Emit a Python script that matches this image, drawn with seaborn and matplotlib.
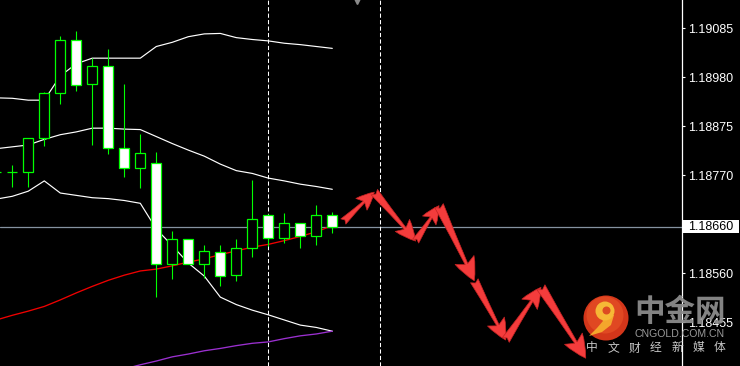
import numpy as np
import pandas as pd
import matplotlib
matplotlib.use("Agg")
import matplotlib.pyplot as plt
import matplotlib.transforms as mtransforms
from matplotlib.patches import FancyArrowPatch, Circle, Rectangle, Polygon
import seaborn as sns

# ---------------- data ----------------
bars = list(range(-1, 21))
opens = [1.18777, 1.18778, 1.18776, 1.18849, 1.18946, 1.19059, 1.18965, 1.19004, 1.18828, 1.18785,
         1.18797, 1.18579, 1.18633, 1.18581, 1.18605, 1.18556, 1.18614, 1.18686, 1.18635, 1.18667,
         1.18639, 1.18684]
highs = [1.18779, 1.18792, 1.18849, 1.18949, 1.19069, 1.19079, 1.19021, 1.19040, 1.18965, 1.18859,
         1.18819, 1.18651, 1.18634, 1.18620, 1.18620, 1.18633, 1.18759, 1.18687, 1.18689, 1.18668,
         1.18706, 1.18691]
lows = [1.18774, 1.18744, 1.18744, 1.18833, 1.18922, 1.18951, 1.18835, 1.18815, 1.18766, 1.18742,
        1.18509, 1.18547, 1.18580, 1.18549, 1.18532, 1.18543, 1.18596, 1.18618, 1.18624, 1.18614,
        1.18620, 1.18646]
closes = [1.18776, 1.18777, 1.18849, 1.18946, 1.19059, 1.18963, 1.19004, 1.18828, 1.18785, 1.18817,
          1.18581, 1.18633, 1.18581, 1.18607, 1.18554, 1.18614, 1.18676, 1.18635, 1.18667, 1.18641,
          1.18684, 1.18660]

bb_upper = [1.18936, 1.18935, 1.18931, 1.18931, 1.18983, 1.19009, 1.19021, 1.19021, 1.19021, 1.19021,
            1.19046, 1.19055, 1.19067, 1.19073, 1.19074, 1.19065, 1.19061, 1.19058, 1.19053, 1.19050,
            1.19046, 1.19042]
bb_middle = [1.18827, 1.18831, 1.18835, 1.18847, 1.18857, 1.18863, 1.18871, 1.18871, 1.18869, 1.18868,
             1.18853, 1.18838, 1.18824, 1.18811, 1.18794, 1.18780, 1.18774, 1.18764, 1.18758, 1.18751,
             1.18746, 1.18740]
bb_lower = [1.18719, 1.18725, 1.18736, 1.18758, 1.18732, 1.18727, 1.18722, 1.18720, 1.18716, 1.18710,
            1.18655, 1.18619, 1.18582, 1.18554, 1.18509, 1.18493, 1.18481, 1.18471, 1.18460, 1.18449,
            1.18444, 1.18436]
ma_red = [1.18460, 1.18470, 1.18479, 1.18489, 1.18503, 1.18518, 1.18532, 1.18545, 1.18556, 1.18565,
          1.18569, 1.18576, 1.18584, 1.18591, 1.18600, 1.18608, 1.18616, 1.18622, 1.18630, 1.18639,
          1.18649, 1.18662]
purple_bars = list(range(7, 21))
ma_purple = [1.18355, 1.18364, 1.18372, 1.18381, 1.18387, 1.18394, 1.18399, 1.18405, 1.18410, 1.18413,
             1.18420, 1.18426, 1.18430, 1.18436]

forecast_bars = [20.69, 22.625, 25.21, 26.67, 28.875, 30.84, 33.04, 35.84]
forecast_prices = [1.18671, 1.18734, 1.18629, 1.18705, 1.18544, 1.18417, 1.18530, 1.18378]

price_ticks = [1.19085, 1.18980, 1.18875, 1.18770, 1.18560, 1.18455]
current_price = 1.18660
marker_bars = [16, 23]

# ---------------- figure ----------------
sns.set_style("dark")
plt.rcParams["font.family"] = ["Liberation Sans", "DejaVu Sans"]

W, H = 740, 366
fig = plt.figure(figsize=(W / 100, H / 100), dpi=100, facecolor="black")
ax = fig.add_axes([0, 0, 682 / W, 1])
ax.set_facecolor("black")

ax.set_xlim(-0.76875, 41.856)
ax.set_ylim(1.1836136, 1.1914564)

# reference lines
ax.axhline(current_price, color="#8592a0", lw=0.9, zorder=1)
for b in marker_bars:
    ax.axvline(b, color="white", lw=0.75, ls=(0, (4, 2.2)), zorder=1)

# indicator lines with seaborn
df = pd.DataFrame({"bar": bars, "upper": bb_upper, "middle": bb_middle,
                   "lower": bb_lower, "red": ma_red})
for col in ["upper", "middle", "lower"]:
    sns.lineplot(data=df, x="bar", y=col, color="white", lw=0.85, ax=ax, zorder=2)
sns.lineplot(data=df, x="bar", y="red", color="#f00000", lw=0.95, ax=ax, zorder=2)
dfp = pd.DataFrame({"bar": purple_bars, "purple": ma_purple})
sns.lineplot(data=dfp, x="bar", y="purple", color="#9b30d0", lw=0.95, ax=ax, zorder=2)

# candles
green = "#00ff00"
body_w = 0.625
for x, o, h, l, c in zip(bars, opens, highs, lows, closes):
    ax.vlines(x, l, h, color=green, lw=0.8, zorder=3)
    bottom = min(o, c)
    height = max(abs(c - o), 0.000008)
    fc = "black" if c > o else "white"
    ax.bar(x, height, bottom=bottom, width=body_w, color=fc, edgecolor=green,
           linewidth=0.9, zorder=4)

# forecast arrows
for i in range(len(forecast_bars) - 1):
    p0 = (forecast_bars[i], forecast_prices[i])
    p1 = (forecast_bars[i + 1], forecast_prices[i + 1])
    d0 = ax.transData.transform(p0)
    d1 = ax.transData.transform(p1)
    L = float(np.hypot(*(d1 - d0)))
    ms = 8 + 0.085 * L
    arr = FancyArrowPatch(p0, p1,
                          arrowstyle="fancy,head_length=1.1,head_width=1.0,tail_width=0.45",
                          mutation_scale=ms, shrinkA=0, shrinkB=0,
                          facecolor="#f43c3c", edgecolor="#c42222", lw=0.5,
                          zorder=6, clip_on=False)
    ax.add_patch(arr)

# axes styling
for s in ["left", "top", "bottom"]:
    ax.spines[s].set_visible(False)
ax.spines["right"].set_color("white")
ax.spines["right"].set_linewidth(0.9)
ax.set_xticks([])
ax.set_xlabel("")
ax.set_ylabel("")
ax.yaxis.tick_right()
ax.set_yticks(price_ticks)
ax.set_yticklabels([f"{v:.5f}" for v in price_ticks])
ax.tick_params(axis="y", colors="white", labelcolor="white", length=2.4, width=0.8,
               pad=2.2, labelsize=9)
ax.grid(False)

# current price box
blend = mtransforms.blended_transform_factory(ax.transAxes, ax.transData)
ppx = (ax.get_ylim()[1] - ax.get_ylim()[0]) / H
ax.add_patch(Rectangle((1.0 + 1 / 682, current_price - 6.2 * ppx), 56 / 682, 12.4 * ppx,
                       transform=blend, facecolor="white", edgecolor="none",
                       clip_on=False, zorder=7))
ax.text(1.0 + 6 / 682, current_price, f"{current_price:.5f}", transform=blend,
        ha="left", va="center", color="black", fontsize=9, zorder=8, clip_on=False)

# ---------------- watermark overlay ----------------
ov = fig.add_axes([0, 0, 1, 1], zorder=5)
ov.set_xlim(0, W)
ov.set_ylim(H, 0)
ov.axis("off")
ov.patch.set_alpha(0)

ov.plot([357], [1], marker="v", color="#8a8a8a", markersize=4)

ov.add_patch(Circle((606, 318), 22.5, facecolor="#d3361a", edgecolor="none"))
ov.add_patch(Circle((605, 315), 18.5, facecolor="#e04822", edgecolor="none"))
ov.add_patch(Polygon([(598, 314), (614, 315), (611, 325), (602, 332), (589, 336),
                      (597, 328), (603, 321)], closed=True, facecolor="#f4a62c",
                     edgecolor="none"))
ov.add_patch(Circle((605, 311), 9.5, facecolor="#f6b836", edgecolor="none"))
ov.add_patch(Circle((606.5, 310.5), 4, facecolor="#dd4a22", edgecolor="none"))

ov.text(634, 312, "中金网", fontsize=22, fontweight="bold", color="#8e8e8e",
        family=["Noto Sans CJK SC", "DejaVu Sans"], ha="left", va="center", alpha=0.93)
ov.text(680, 334, "CNGOLD.COM.CN", fontsize=7.6, color="#9a9a9a",
        family=["Liberation Sans", "DejaVu Sans"], ha="center", va="center")
for j, ch in enumerate("中文财经新媒体"):
    ov.text(592 + j * 21.3, 348, ch, fontsize=8.5, color="#c8c8c8",
            family=["Noto Sans CJK SC", "DejaVu Sans"], ha="center", va="center")

fig.savefig("out.png", dpi=100, facecolor="black")
